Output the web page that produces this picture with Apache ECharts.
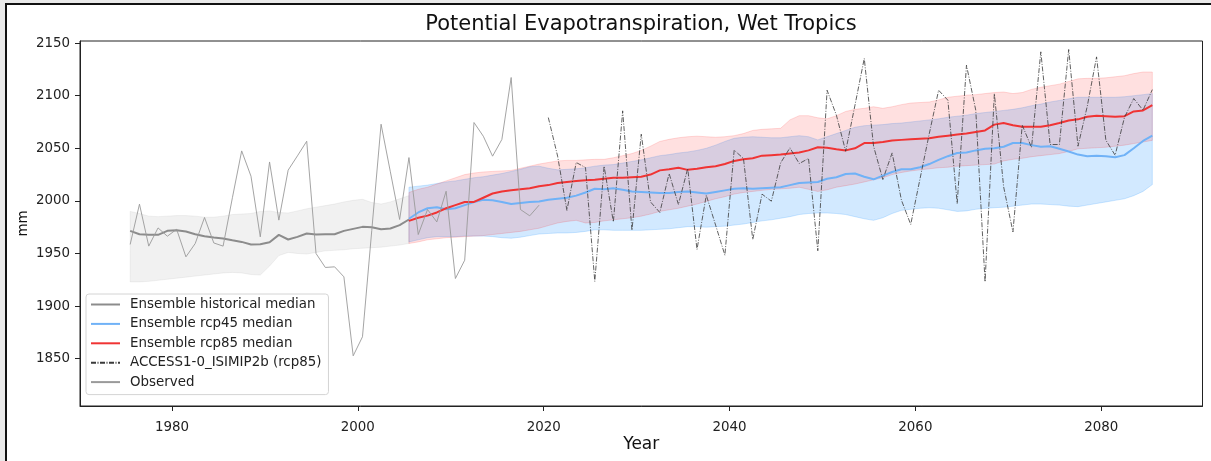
<!DOCTYPE html>
<html>
<head>
<meta charset="utf-8">
<title>Potential Evapotranspiration, Wet Tropics</title>
<script src="https://cdn.jsdelivr.net/npm/echarts@6/dist/echarts.min.js"></script>
<style>
  html, body { margin: 0; padding: 0; background: #e9e9e9; overflow: hidden; }
  #frame { position: absolute; left: 5px; top: 3px; width: 1220px; height: 470px;
           background: #fff; border-top: 2px solid #111; border-left: 2px solid #111; }
  #chart { position: absolute; left: 0; top: 0; width: 1211px; height: 461px; }
</style>
</head>
<body>
<div id="frame"></div>
<div id="chart"></div>
<script>
// years are plotted at mid-year
const MID = 0.5
const range = (a, b) => { const r = []; for (let y = a; y <= b; y++) r.push(y); return r }

const histYears = range(1975, 2005)
const rcpYears = range(2005, 2085)
const obsYears = range(1975, 2019)
const accessYears = range(2020, 2085)

// ensemble historical
const histMedian = [1971.5, 1968.3, 1967.7, 1967.7, 1971.5, 1972.1, 1970.9, 1968.3, 1966.4, 1965.2,
  1964.3, 1962.6, 1961, 1958.6, 1958.8, 1960.7, 1967.7, 1963.3, 1965.8, 1969,
  1968, 1968.3, 1968.3, 1971.5, 1973.4, 1975.3, 1975, 1973.1, 1973.7, 1976.9, 1982.3]
const histUpper = [1990, 1988, 1985.5, 1985, 1985.5, 1986, 1986, 1985.5, 1984.5, 1984.5,
  1985.5, 1987, 1987.5, 1988, 1990, 1990.5, 1989, 1988.5, 1990.5, 1992.5,
  1994, 1995.5, 1997, 1999, 2000.5, 2001.5, 1998.5, 1997, 1999, 2002, 2005]
const histLower = [1923, 1923, 1923.5, 1924.5, 1925.5, 1926.5, 1927.5, 1928.5, 1929.5, 1930.5,
  1931.5, 1932, 1931.5, 1930, 1929.5, 1938, 1948, 1951, 1950, 1949.5,
  1951, 1952.5, 1953, 1953.5, 1954.5, 1955, 1955.5, 1956, 1957, 1958, 1959.5]

// rcp45
const rcp45Median = [1983, 1989, 1993, 1994, 1992, 1993, 1996, 1999, 2001, 2000.5,
  1999, 1997, 1998, 1999, 1999.5, 2001, 2002, 2003, 2005, 2008,
  2011.5, 2011, 2012, 2010.5, 2009, 2008.5, 2008, 2007.5, 2007.5, 2008.5,
  2009, 2008, 2007, 2008.5, 2010, 2011.5, 2012, 2011.5, 2012, 2012.5,
  2013, 2015, 2017, 2017.5, 2018, 2021, 2022.5, 2025.5, 2026, 2023,
  2020.5, 2024, 2027.5, 2030, 2030, 2032, 2035, 2039, 2042.5, 2045.5,
  2046, 2048, 2049.5, 2050, 2051.5, 2055, 2055, 2053, 2051.5, 2052,
  2049.5, 2047, 2044, 2042.5, 2043, 2042.5, 2041.5, 2043.5, 2050, 2057,
  2062]
const rcp45Upper = [2013, 2014, 2015, 2016.5, 2018, 2019, 2020.5, 2022, 2023, 2024.5,
  2026, 2028, 2030, 2032.5, 2033, 2031, 2029.5, 2030, 2030.5, 2031.5,
  2033, 2034, 2034.5, 2036, 2037.5, 2039, 2041, 2043, 2044, 2045.5,
  2046.5, 2048, 2050, 2053, 2056.5, 2059.5, 2060.5, 2061, 2060.5, 2060,
  2060, 2061, 2062, 2061, 2058, 2061, 2064, 2067, 2070, 2071.5,
  2072, 2072.5, 2073.5, 2074, 2075, 2076, 2077, 2078, 2079.5, 2080.5,
  2081.5, 2083, 2084, 2085, 2086, 2087, 2088.5, 2090.5, 2092, 2094,
  2095.5, 2097, 2098.5, 2098.5, 2098.5, 2098.5, 2098.5, 2099, 2100, 2101,
  2102]
const rcp45Lower = [1961, 1963, 1965, 1966, 1966, 1966, 1966.5, 1966.5, 1966.5, 1966,
  1965, 1964.5, 1965.5, 1967, 1968.5, 1969, 1969.5, 1969.5, 1970, 1971,
  1972.5, 1972.5, 1972, 1972, 1972, 1972, 1972.5, 1973, 1973.5, 1974.5,
  1975.5, 1975.5, 1975, 1975.5, 1976, 1977, 1978, 1979.5, 1981, 1982,
  1983.5, 1985, 1987, 1988, 1988.5, 1988.5, 1988, 1987, 1985, 1983,
  1981.5, 1984, 1988, 1991, 1992, 1993, 1993.5, 1993, 1991.5, 1990,
  1990.5, 1992, 1993, 1993.5, 1994, 1995, 1996, 1997, 1997, 1996.5,
  1996, 1995, 1994.5, 1996, 1997.5, 1999, 2000.5, 2002, 2005, 2009,
  2015.5]

// rcp85
const rcp85Median = [1981, 1984, 1986, 1989, 1993, 1996, 1999, 1999, 2003, 2007,
  2009, 2010, 2011, 2012, 2014, 2015, 2017, 2018, 2019, 2019.5,
  2020, 2021, 2022, 2022, 2022.5, 2023, 2025, 2029, 2030, 2031.5,
  2029.5, 2030.5, 2032, 2033, 2035, 2038, 2039.5, 2040.5, 2043, 2043.5,
  2044, 2045, 2046, 2048, 2051, 2050.5, 2049, 2048, 2050, 2055,
  2055, 2056, 2057.5, 2058, 2058.5, 2059, 2059.5, 2061, 2062, 2063,
  2064, 2065.5, 2067, 2072.5, 2074, 2072, 2070.5, 2070.5, 2070.5, 2072,
  2074, 2076.5, 2077.5, 2080, 2081, 2080.5, 2080, 2080.5, 2085, 2086,
  2091]
const rcp85Upper = [2008, 2011, 2013, 2016, 2019, 2022, 2025, 2026.5, 2027.5, 2028,
  2028.5, 2029, 2031, 2033, 2035, 2036.5, 2038, 2038.5, 2038.5, 2039,
  2039.5, 2039.5, 2041, 2043, 2045, 2048, 2052, 2056.5, 2058.5, 2060,
  2061, 2061.5, 2061, 2060.5, 2061, 2062, 2064, 2067, 2068, 2068.5,
  2069, 2077, 2081, 2081, 2079, 2078, 2081, 2085, 2087, 2088,
  2089.5, 2088, 2089.5, 2091.5, 2093, 2093.5, 2094, 2096, 2098.5, 2099.5,
  2100.5, 2101, 2102, 2103, 2103.5, 2102, 2103, 2106, 2108, 2109.5,
  2111, 2113.5, 2116, 2116.5, 2116.5, 2117, 2118, 2119, 2121, 2122.5,
  2122.5]
const rcp85Lower = [1959.5, 1961, 1963, 1964, 1965, 1965.5, 1966, 1966.5, 1967, 1968,
  1969, 1970, 1971, 1972.5, 1974, 1976.5, 1979, 1980.5, 1981.5, 1979,
  1979.5, 1981, 1982, 1983, 1984, 1985.5, 1987.5, 1990, 1991.5, 1993,
  1995, 1997, 1999.5, 2002, 2004, 2006.5, 2008, 2009, 2010, 2011,
  2011.5, 2012, 2013, 2011, 2009, 2010.5, 2013, 2014.5, 2016, 2018,
  2020, 2022, 2025, 2027, 2028.5, 2029.5, 2030.5, 2031.5, 2032, 2033,
  2033.5, 2034, 2034.5, 2035, 2038, 2039.5, 2040.5, 2042, 2043, 2044,
  2045, 2047, 2049.5, 2050, 2050.5, 2051, 2052, 2053, 2054.5, 2056,
  2057.5]

// single model run and observations
const accessValues = [2079.2, 2042.5, 1991, 2036.5, 2031.7, 1923.5, 2033, 1980, 2085.6, 1972,
  2063.4, 1999, 1989, 2026, 1996.6, 2030.8, 1953.8, 2005.4, 1977, 1948.4,
  2048.2, 2040.3, 1963.3, 2006.4, 1999.7, 2036.1, 2050.4, 2035.5, 2040.3, 1952.6,
  2105.2, 2081.5, 2047.2, 2091, 2135.4, 2052, 2020.3, 2045.6, 2000.7, 1977.6,
  2021, 2064, 2105.2, 2095.7, 1997.5, 2129, 2086.2, 1923, 2102, 2013.3,
  1970.5, 2072, 2050.8, 2141.7, 2053.6, 2053.6, 2143.9, 2052, 2090, 2136.9,
  2057.7, 2043.4, 2079.3, 2097.3, 2086.2, 2105.8]
const observedValues = [1958.6, 1996.9, 1957, 1974.3, 1966.4, 1973, 1946.8, 1959.5, 1984.2, 1960,
  1957, 2003, 2047.5, 2023.5, 1965.8, 2037, 1981.7, 2029.2, 2042.8, 2056.7,
  1950, 1936.7, 1937.3, 1927.8, 1852.7, 1870.8, 1972, 2072.9, 2027.6, 1982.3,
  2041.2, 1968, 1991.8, 1980, 2009.2, 1926.2, 1943.6, 2074.5, 2061.5, 2042.5,
  2058.4, 2117.3, 1991.8, 1985.8, 1995.9]

const xTicks = [1980, 2000, 2020, 2040, 2060, 2080]
const yTicks = [1850, 1900, 1950, 2000, 2050, 2100, 2150]

const FONT = 'DejaVu Sans'
const pts = (years, vals) => years.map((y, i) => [y + MID, vals[i]])

// shaded range between lower and upper, drawn as one polygon through the axis scales
const band = (years, lower, upper, fill, edge) => ({
  type: 'custom', silent: true, z: 1,
  data: years.map((y, i) => [y + MID, lower[i], upper[i]]),
  encode: { x: 0, y: [1, 2] },
  renderItem: (params, api) => {
    if (params.dataIndex !== 0) return null
    const top = years.map((y, i) => api.coord([y + MID, upper[i]]))
    const bottom = years.map((y, i) => api.coord([y + MID, lower[i]])).reverse()
    return {
      type: 'polygon',
      shape: { points: top.concat(bottom) },
      style: { fill: fill, stroke: edge, lineWidth: 1 }
    }
  }
})

const chart = echarts.init(document.getElementById('chart'))

chart.setOption({
  animation: false,
  textStyle: { fontFamily: FONT },
  graphic: [{
    type: 'text', x: 641, y: 24.5,
    style: { text: 'Potential Evapotranspiration, Wet Tropics', font: `21px "${FONT}"`,
             fill: '#111', textAlign: 'center', textVerticalAlign: 'middle' }
  }],
  grid: { left: 80, right: 8.5, top: 41, bottom: 55, show: true, borderColor: '#222', borderWidth: 1, backgroundColor: 'transparent' },
  legend: {
    left: 86, top: 294, orient: 'vertical',
    padding: [4, 7, 6, 4], itemGap: 6.4, itemWidth: 29, itemHeight: 14,
    backgroundColor: 'rgba(255,255,255,0.8)', borderColor: '#d4d4d4', borderWidth: 1, borderRadius: 3,
    selectedMode: false,
    itemStyle: { opacity: 0 },
    textStyle: { fontFamily: FONT, fontSize: 13.4, color: '#222', padding: [0, 0, 0, 5] },
    data: ['Ensemble historical median', 'Ensemble rcp45 median', 'Ensemble rcp85 median',
           'ACCESS1-0_ISIMIP2b (rcp85)', 'Observed']
  },
  xAxis: {
    type: 'value', min: 1970.1, max: 2090.9,
    name: 'Year', nameLocation: 'middle', nameGap: 30, nameMoveOverlap: false,
    nameTextStyle: { fontFamily: FONT, fontSize: 17, color: '#111' },
    axisLine: { lineStyle: { color: '#222', width: 1 } },
    axisTick: { length: 5, lineStyle: { color: '#222' }, customValues: xTicks },
    axisLabel: { fontFamily: FONT, fontSize: 13.4, color: '#222', margin: 15, customValues: xTicks,
                 formatter: v => String(v) },
    splitLine: { show: false }
  },
  yAxis: {
    type: 'value', min: 1805, max: 2152,
    name: 'mm', nameLocation: 'middle', nameGap: 50, nameRotate: 90, nameMoveOverlap: false,
    nameTextStyle: { fontFamily: FONT, fontSize: 13.4, color: '#111' },
    axisLine: { show: true, lineStyle: { color: '#222', width: 1 } },
    axisTick: { show: true, length: 5, lineStyle: { color: '#222' }, customValues: yTicks },
    axisLabel: { fontFamily: FONT, fontSize: 13.4, color: '#222', margin: 10, customValues: yTicks,
                 formatter: v => String(v) },
    splitLine: { show: false }
  },
  series: [
    band(histYears, histLower, histUpper, 'rgba(128,128,128,0.11)', 'rgba(128,128,128,0.1)'),
    band(rcpYears, rcp45Lower, rcp45Upper, 'rgba(30,144,255,0.2)', 'rgba(30,144,255,0.2)'),
    band(rcpYears, rcp85Lower, rcp85Upper, 'rgba(255,0,0,0.12)', 'rgba(255,0,0,0.14)'),
    {
      name: 'Ensemble historical median', type: 'line', data: pts(histYears, histMedian), symbol: 'none',
      itemStyle: { color: '#8c8c8c' }, lineStyle: { color: '#8c8c8c', width: 2 }
    },
    {
      name: 'Ensemble rcp45 median', type: 'line', data: pts(rcpYears, rcp45Median), symbol: 'none',
      itemStyle: { color: '#70b2f7' }, lineStyle: { color: '#70b2f7', width: 2 }
    },
    {
      name: 'Ensemble rcp85 median', type: 'line', data: pts(rcpYears, rcp85Median), symbol: 'none',
      itemStyle: { color: '#f03434' }, lineStyle: { color: '#f03434', width: 2 }
    },
    {
      name: 'ACCESS1-0_ISIMIP2b (rcp85)', type: 'line', data: pts(accessYears, accessValues), symbol: 'none',
      itemStyle: { color: '#3a3a3a' }, lineStyle: { color: '#3a3a3a', width: 0.8, type: [5, 1.5, 1, 1.5] }
    },
    {
      name: 'Observed', type: 'line', data: pts(obsYears, observedValues), symbol: 'none',
      itemStyle: { color: '#9a9a9a' }, lineStyle: { color: '#9a9a9a', width: 0.9 }
    }
  ]
})
</script>
</body>
</html>
